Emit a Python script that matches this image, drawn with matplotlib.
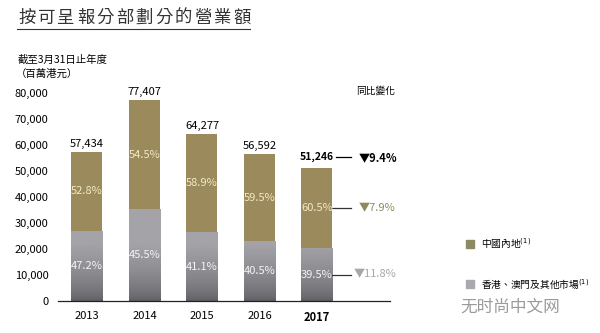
import numpy as np
import matplotlib.pyplot as plt
from matplotlib.colors import LinearSegmentedColormap

plt.rcParams['font.family'] = ['Noto Sans CJK TC', 'DejaVu Sans']

# 數據
years = ['2013', '2014', '2015', '2016', '2017']
totals = [57434, 77407, 64277, 56592, 51246]
mainland_pct = [52.8, 54.5, 58.9, 59.5, 60.5]
hk_pct = [47.2, 45.5, 41.1, 40.5, 39.5]
yoy_total = '▼9.4%'
yoy_mainland = '▼7.9%'
yoy_hk = '▼11.8%'
yticks = [0, 10000, 20000, 30000, 40000, 50000, 60000, 70000, 80000]

gold = '#9a8a5c'
grey = '#a4a3a8'
grey_dark = '#5c5b61'

hk_vals = [t * p / 100 for t, p in zip(totals, hk_pct)]
ml_vals = [t * p / 100 for t, p in zip(totals, mainland_pct)]
x = np.arange(len(years))
w = 0.54

fig = plt.figure(figsize=(6, 3.33), dpi=100)
fig.patch.set_facecolor('white')

ax = fig.add_axes([0.097, 0.096, 0.553, 0.625])
ax.patch.set_alpha(0)

grad = LinearSegmentedColormap.from_list('g', [grey_dark, grey])
for i in range(len(years)):
    # 灰色部分底部漸變
    hb = ax.bar(x[i], hk_vals[i], width=w, color='none', zorder=2)[0]
    yy = np.linspace(0, hk_vals[i], 200)
    shade = np.clip(yy / 22000, 0, 1) ** 0.6
    img = ax.imshow(shade.reshape(-1, 1), cmap=grad, vmin=0, vmax=1,
                    extent=(x[i] - w / 2, x[i] + w / 2, 0, hk_vals[i]), origin='lower',
                    aspect='auto', zorder=2)
    img.set_clip_path(hb)
    ax.bar(x[i], ml_vals[i], bottom=hk_vals[i], width=w, color=gold, zorder=2)
    ax.text(x[i], hk_vals[i] / 2, f'{hk_pct[i]}%', ha='center', va='center',
            fontsize=8, color='#f4f4f4', zorder=4)
    ax.text(x[i], hk_vals[i] + ml_vals[i] / 2, f'{mainland_pct[i]}%', ha='center',
            va='center', fontsize=8, color='#f3e9c4', zorder=4)
    if i < len(years) - 1:
        ax.annotate(f'{totals[i]:,}', (x[i], totals[i]), xytext=(0, 2),
                    textcoords='offset points', ha='center', va='bottom', fontsize=8)

# 2017 年標註及同比變化
i = len(years) - 1
ylab = totals[i] + 4000
ax.text(x[i] + w / 2 + 0.02, ylab, f'{totals[i]:,}', ha='right', va='center',
        fontsize=7.5, fontweight='bold')
ax.plot([x[i] + w / 2 + 0.06, x[i] + w / 2 + 0.33], [ylab, ylab], color='black', lw=0.9,
        clip_on=False)
ax.text(x[i] + w / 2 + 0.45, ylab, yoy_total, ha='left', va='center', fontsize=8,
        fontweight='bold', color='black')
for yv, lab, col, dx in [(hk_vals[i] + ml_vals[i] / 2, yoy_mainland, '#8c8a5e', 0.45),
                         (hk_vals[i] / 2, yoy_hk, '#a6a6ae', 0.37)]:
    ax.plot([x[i] + w / 2, x[i] + w / 2 + 0.33], [yv, yv], color='#333333', lw=0.9,
            clip_on=False)
    ax.text(x[i] + w / 2 + dx, yv, lab, ha='left', va='center', fontsize=8, color=col)

ax.set_xlim(-0.5, 5.27)
ax.set_ylim(0, 80000)
ax.set_yticks(yticks)
ax.set_yticklabels([f'{v:,}' for v in yticks], fontsize=8)
ax.set_xticks(x)
ax.set_xticklabels(years, fontsize=8)
ax.get_xticklabels()[-1].set_fontweight('bold')
ax.tick_params(length=0, pad=7)
for s in ['top', 'right', 'left']:
    ax.spines[s].set_visible(False)
ax.spines['bottom'].set_color('#222222')
ax.spines['bottom'].set_linewidth(0.9)
ax.spines['bottom'].set_zorder(5)

# 標題
title = '按可呈報分部劃分的營業額'
for k, ch in enumerate(title):
    fig.text((18 + k * 19.6) / 600, 1 - 18 / 333, ch, fontsize=12.5, ha='left',
             va='center', color='#333333')
fig.add_artist(plt.Line2D([17 / 600, 250 / 600], [1 - 29 / 333, 1 - 29 / 333],
                          color='#333333', lw=0.8))
fig.text(18 / 600, 1 - 60 / 333, '截至3月31日止年度', fontsize=7.5, va='center')
fig.text(16 / 600, 1 - 74 / 333, '（百萬港元）', fontsize=7.5, va='center')
fig.text(356 / 600, 1 - 91 / 333, '同比變化', fontsize=7, va='center')

# 圖例
fig.patches.append(plt.Rectangle((466 / 600, 1 - 248 / 333), 8 / 600, 8 / 333,
                                 transform=fig.transFigure, color='#8c8a62'))
fig.text(481 / 600, 1 - 244 / 333, '中國內地$^{(1)}$', fontsize=7, va='center')
fig.patches.append(plt.Rectangle((466 / 600, 1 - 288 / 333), 8 / 600, 8 / 333,
                                 transform=fig.transFigure, color='#a9a9ae'))
fig.text(481 / 600, 1 - 284 / 333, '香港、澳門及其他市場$^{(1)}$', fontsize=7, va='center')

# 水印
fig.text(460 / 600, 1 - 307 / 333, '无时尚中文网', fontsize=12, va='center',
         color='#9a9a9a')

fig.savefig('out.png', dpi=100)
